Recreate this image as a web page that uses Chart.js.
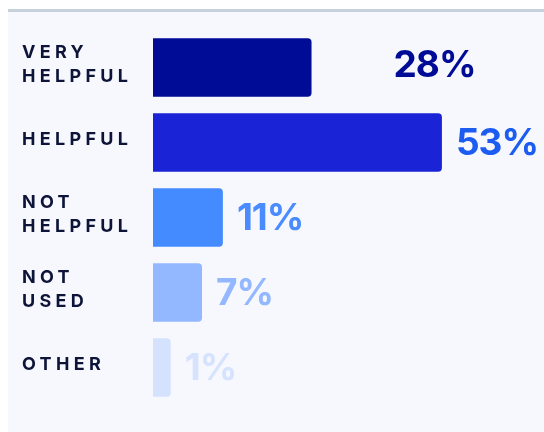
<!DOCTYPE html>
<html>
<head>
<meta charset="utf-8">
<script src="https://cdn.jsdelivr.net/npm/chart.js@4/dist/chart.umd.min.js"></script>
<style>
  html, body { margin: 0; padding: 0; background: #ffffff; }
  canvas { display: block; }
</style>
</head>
<body>
<canvas id="c" width="544" height="432"></canvas>
<script>
const categories = [["VERY", "HELPFUL"], ["HELPFUL"], ["NOT", "HELPFUL"], ["NOT", "USED"], ["OTHER"]];
const values = [28, 53, 11, 7, 1];
const valueLabels = ["28%", "53%", "11%", "7%", "1%"];
const barColors = ["#000c96", "#1a24d6", "#448bff", "#93b8ff", "#d5e2fe"];
const labelColors = ["#000c96", "#1c5cf0", "#4a8cff", "#93b8ff", "#d6e3fe"];

const BASE = -2.4;

const decor = {
  id: 'decor',
  beforeDraw(chart) {
    const ctx = chart.ctx;
    ctx.save();
    ctx.fillStyle = '#ffffff';
    ctx.fillRect(0, 0, chart.width, chart.height);
    ctx.fillStyle = '#f7f8fe';
    ctx.fillRect(8, 12, chart.width - 8, chart.height - 12);
    ctx.fillStyle = '#c7d1dc';
    ctx.fillRect(8, 9, chart.width - 8, 3);
    ctx.restore();
  },
  afterDatasetsDraw(chart) {
    const ctx = chart.ctx;
    const meta = chart.getDatasetMeta(0);
    const yScale = chart.scales.y;
    ctx.save();
    // category labels
    ctx.font = 'bold 18px Inter';
    ctx.letterSpacing = '4.3px';
    ctx.fillStyle = '#0d1438';
    ctx.textAlign = 'left';
    ctx.textBaseline = 'middle';
    categories.forEach((lines, i) => {
      const cy = yScale.getPixelForValue(i) - 3;
      const lh = 23.5;
      const start = cy - (lines.length - 1) * lh / 2;
      lines.forEach((t, j) => ctx.fillText(t, 22, start + j * lh));
    });
    // value labels
    ctx.font = 'bold 37px Inter';
    ctx.letterSpacing = '-1px';
    meta.data.forEach((bar, i) => {
      const extra = i === 0 ? 68 : 0;
      const dy = i === 0 ? -3 : 0;
      ctx.fillStyle = labelColors[i];
      ctx.fillText(valueLabels[i], bar.x + 14 + extra, bar.y + dy + 1);
    });
    ctx.restore();
  }
};

new Chart(document.getElementById('c'), {
  type: 'bar',
  data: {
    labels: categories,
    datasets: [{
      data: values,
      base: BASE,
      backgroundColor: barColors,
      borderRadius: 4,
      borderSkipped: 'start',
      barPercentage: 0.78,
      categoryPercentage: 1.0
    }]
  },
  options: {
    indexAxis: 'y',
    responsive: false,
    animation: false,
    devicePixelRatio: 1,
    layout: { padding: { left: 153, top: 30, bottom: 27, right: 3 } },
    plugins: { legend: { display: false }, tooltip: { enabled: false } },
    scales: {
      x: { display: false, min: BASE, max: 72 },
      y: { display: false }
    }
  },
  plugins: [decor]
});
</script>
</body>
</html>
